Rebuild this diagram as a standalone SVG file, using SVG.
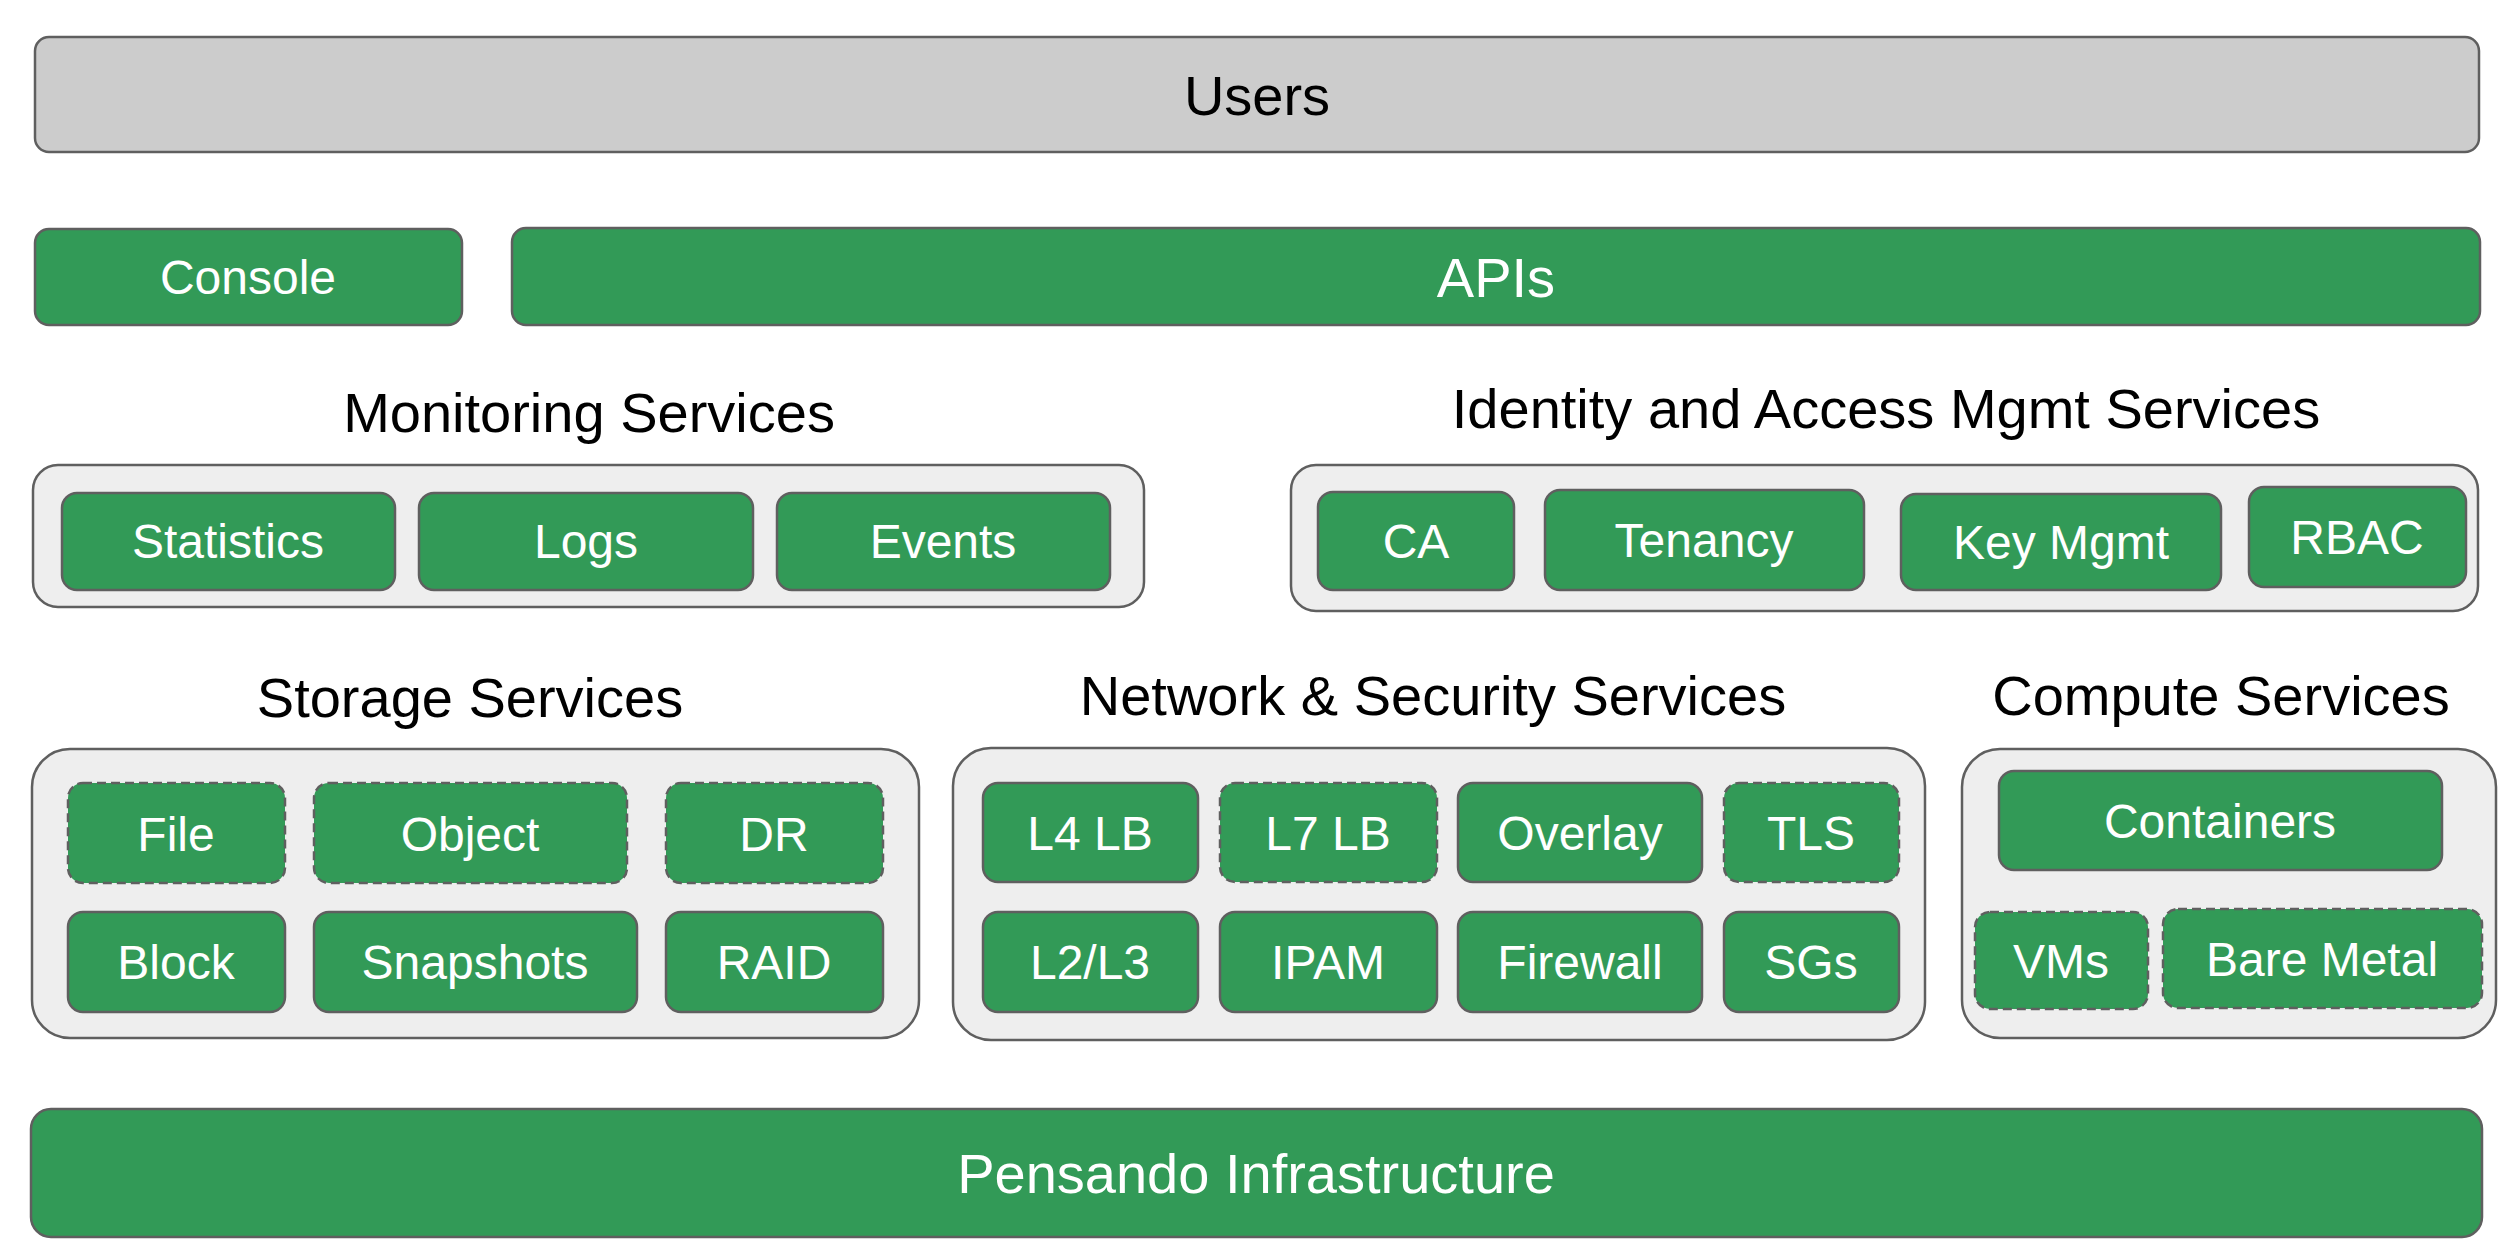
<svg xmlns="http://www.w3.org/2000/svg" width="2500" height="1253" viewBox="0 0 2500 1253">
<style>
.b{stroke:#5f5f5f;stroke-width:2.5}
.g{fill:#329a57}
.d{stroke-dasharray:9 5}
.c{fill:#eeeeee}
.u{fill:#cccccc}
text{font-family:"Liberation Sans",Arial,sans-serif;text-anchor:middle}
.l{fill:#ffffff;font-size:48px}
.L{fill:#ffffff;font-size:56px}
.t{fill:#000000;font-size:56px}
</style>
<rect width="2500" height="1253" fill="#ffffff"/>
<g id="users"><rect class="b u" x="35" y="37" width="2444" height="115" rx="14"/><text class="t" x="1257" y="115">Users</text></g>
<g id="console"><rect class="b g" x="35" y="229" width="427" height="96" rx="14"/><text class="l" x="248" y="294">Console</text></g>
<g id="apis"><rect class="b g" x="512" y="228" width="1968" height="97" rx="14"/><text class="L" x="1496" y="297">APIs</text></g>

<g id="monitoring"><text class="t" x="589" y="432">Monitoring Services</text>
<rect class="b c" x="33" y="465" width="1111" height="142" rx="25"/></g>
<g id="statistics"><rect class="b g" x="62" y="493" width="333" height="97" rx="15"/><text class="l" x="228" y="558">Statistics</text></g>
<g id="logs"><rect class="b g" x="419" y="493" width="334" height="97" rx="15"/><text class="l" x="586" y="558">Logs</text></g>
<g id="events"><rect class="b g" x="777" y="493" width="333" height="97" rx="15"/><text class="l" x="943" y="558">Events</text></g>

<g id="iam"><text class="t" x="1886" y="428">Identity and Access Mgmt Services</text>
<rect class="b c" x="1291" y="465" width="1187" height="146" rx="25"/></g>
<g id="ca"><rect class="b g" x="1318" y="492" width="196" height="98" rx="15"/><text class="l" x="1416" y="558">CA</text></g>
<g id="tenancy"><rect class="b g" x="1545" y="490" width="319" height="100" rx="15"/><text class="l" x="1704" y="557">Tenancy</text></g>
<g id="keymgmt"><rect class="b g" x="1901" y="494" width="320" height="96" rx="15"/><text class="l" x="2061" y="559">Key Mgmt</text></g>
<g id="rbac"><rect class="b g" x="2249" y="487" width="217" height="100" rx="15"/><text class="l" x="2357" y="554">RBAC</text></g>

<g id="storage"><text class="t" x="470" y="717">Storage Services</text>
<rect class="b c" x="32" y="749" width="887" height="289" rx="38"/></g>
<g id="file"><rect class="b g d" x="68" y="783" width="217" height="100" rx="15"/><text class="l" x="176" y="851">File</text></g>
<g id="object"><rect class="b g d" x="314" y="783" width="313" height="100" rx="15"/><text class="l" x="470" y="851">Object</text></g>
<g id="dr"><rect class="b g d" x="666" y="783" width="217" height="100" rx="15"/><text class="l" x="774" y="851">DR</text></g>
<g id="block"><rect class="b g" x="68" y="912" width="217" height="100" rx="15"/><text class="l" x="176" y="979">Block</text></g>
<g id="snapshots"><rect class="b g" x="314" y="912" width="323" height="100" rx="15"/><text class="l" x="475" y="979">Snapshots</text></g>
<g id="raid"><rect class="b g" x="666" y="912" width="217" height="100" rx="15"/><text class="l" x="774" y="979">RAID</text></g>

<g id="network"><text class="t" x="1433" y="715">Network &amp; Security Services</text>
<rect class="b c" x="953" y="748" width="972" height="292" rx="38"/></g>
<g id="l4lb"><rect class="b g" x="983" y="783" width="215" height="99" rx="15"/><text class="l" x="1090" y="850">L4 LB</text></g>
<g id="l7lb"><rect class="b g d" x="1220" y="783" width="217" height="99" rx="15"/><text class="l" x="1328" y="850">L7 LB</text></g>
<g id="overlay"><rect class="b g" x="1458" y="783" width="244" height="99" rx="15"/><text class="l" x="1580" y="850">Overlay</text></g>
<g id="tls"><rect class="b g d" x="1724" y="783" width="175" height="99" rx="15"/><text class="l" x="1811" y="850">TLS</text></g>
<g id="l2l3"><rect class="b g" x="983" y="912" width="215" height="100" rx="15"/><text class="l" x="1090" y="979">L2/L3</text></g>
<g id="ipam"><rect class="b g" x="1220" y="912" width="217" height="100" rx="15"/><text class="l" x="1328" y="979">IPAM</text></g>
<g id="firewall"><rect class="b g" x="1458" y="912" width="244" height="100" rx="15"/><text class="l" x="1580" y="979">Firewall</text></g>
<g id="sgs"><rect class="b g" x="1724" y="912" width="175" height="100" rx="15"/><text class="l" x="1811" y="979">SGs</text></g>

<g id="compute"><text class="t" x="2221" y="715">Compute Services</text>
<rect class="b c" x="1962" y="749" width="534" height="289" rx="38"/></g>
<g id="containers"><rect class="b g" x="1999" y="771" width="443" height="99" rx="15"/><text class="l" x="2220" y="838">Containers</text></g>
<g id="vms"><rect class="b g d" x="1975" y="912" width="173" height="97" rx="15"/><text class="l" x="2061" y="978">VMs</text></g>
<g id="baremetal"><rect class="b g d" x="2163" y="909" width="319" height="99" rx="15"/><text class="l" x="2322" y="976">Bare Metal</text></g>

<g id="pensando"><rect class="b g" x="31" y="1109" width="2451" height="128" rx="20"/><text class="L" x="1256" y="1193">Pensando Infrastructure</text></g>
<g id="connectors"></g>
</svg>
